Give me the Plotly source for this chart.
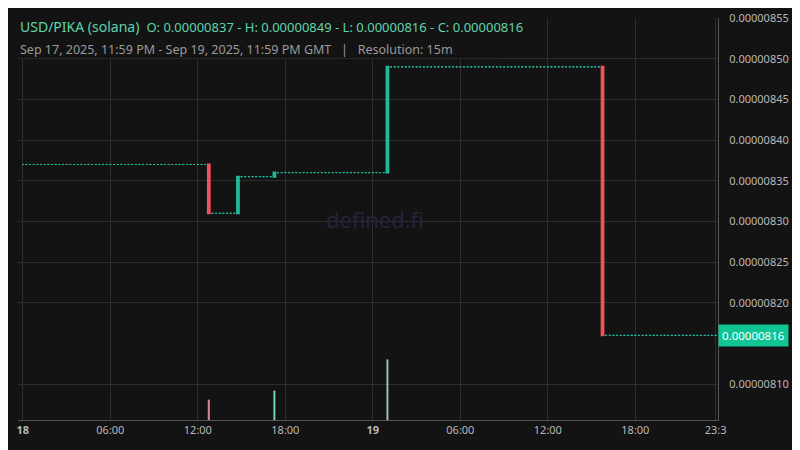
import pandas as pd
import plotly.graph_objects as go

# price change points (15m bars): time, open, close
change_times = ["2025-09-18 12:45", "2025-09-18 14:45", "2025-09-18 17:15",
                "2025-09-19 01:00", "2025-09-19 15:45"]
change_open = [8.37e-6, 8.31e-6, 8.355e-6, 8.36e-6, 8.49e-6]
change_close = [8.31e-6, 8.355e-6, 8.36e-6, 8.49e-6, 8.16e-6]
start_price = 8.37e-6
vol_times = ["2025-09-18 12:45", "2025-09-18 17:15", "2025-09-19 01:00"]
vol_values = [20, 29, 60]
vol_colors = ["#f0525a", "#2fd3a8", "#2fd3a8"]

tick_vals = ["2025-09-18 00:00", "2025-09-18 06:00", "2025-09-18 12:00", "2025-09-18 18:00",
             "2025-09-19 00:00", "2025-09-19 06:00", "2025-09-19 12:00", "2025-09-19 18:00",
             "2025-09-19 23:30"]
tick_text = ["<b>18</b>", "06:00", "12:00", "18:00", "<b>19</b>", "06:00", "12:00", "18:00", "23:3"]
y_ticks = [8.10e-6, 8.20e-6, 8.25e-6, 8.30e-6, 8.35e-6, 8.40e-6, 8.45e-6, 8.50e-6, 8.55e-6]

times = pd.date_range("2025-09-18 00:00", "2025-09-19 23:45", freq="15min")
chg = {pd.Timestamp(t): (o, c) for t, o, c in zip(change_times, change_open, change_close)}
flat_t, flat_p = [], []
p = start_price
for t in times:
    if t in chg:
        p = chg[t][1]
    else:
        flat_t.append(t)
        flat_p.append(p)

fig = go.Figure()
fig.add_trace(go.Bar(x=pd.to_datetime(vol_times), y=vol_values, marker_color=vol_colors,
                     width=1000 * 60 * 5, yaxis="y2", showlegend=False))
fig.add_trace(go.Candlestick(x=flat_t, open=flat_p, high=flat_p, low=flat_p, close=flat_p,
                             increasing=dict(line=dict(color="#1fb89a", width=1)),
                             decreasing=dict(line=dict(color="#1fb89a", width=1)),
                             whiskerwidth=0, showlegend=False))
fig.add_trace(go.Candlestick(x=pd.to_datetime(change_times), open=change_open,
                             high=[max(a, b) for a, b in zip(change_open, change_close)],
                             low=[min(a, b) for a, b in zip(change_open, change_close)],
                             close=change_close,
                             increasing=dict(line=dict(color="#1fb89a", width=2), fillcolor="#1fb89a"),
                             decreasing=dict(line=dict(color="#f0525a", width=2), fillcolor="#f0525a"),
                             whiskerwidth=0, showlegend=False))

last = change_close[-1]
fig.add_hline(y=last, line=dict(color="#bbbbbb", width=1, dash="dot"))

fig.update_layout(
    width=800, height=450, paper_bgcolor="#131313", plot_bgcolor="#131313",
    margin=dict(l=10, r=90, t=10, b=38, autoexpand=False),
    font=dict(family="Noto Sans", color="#b8b8b8", size=11),
    xaxis=dict(range=["2025-09-17 23:40", "2025-09-19 23:40"], rangeslider=dict(visible=False),
               tickvals=pd.to_datetime(tick_vals), ticktext=tick_text, gridcolor="#2e2e2e",
               showline=True, linecolor="#555", zeroline=False, automargin=False),
    yaxis=dict(side="right", range=[8.056e-6, 8.55e-6], tickvals=y_ticks,
               tickformat=".8f", gridcolor="#2e2e2e", showline=True, linecolor="#555",
               zeroline=False, ticks="", ticklabelstandoff=8, automargin=False),
    yaxis2=dict(overlaying="y", range=[0, 400], visible=False),
    shapes=[dict(type="rect", xref="paper", yref="paper", x0=-0.02, x1=0.69, y0=0.9, y1=1.05,
                 fillcolor="#131313", line_width=0, layer="above")],
    annotations=[
        dict(text="USD/PIKA (solana) <span style='font-size:13px'> O: 0.00000837 - H: 0.00000849 - L: 0.00000816 - C: 0.00000816</span>",
             xref="paper", yref="paper", x=0.0, y=0.98, xanchor="left", yanchor="middle",
             showarrow=False, font=dict(color="#5fd3ac", size=14)),
        dict(text="Sep 17, 2025, 11:59 PM - Sep 19, 2025, 11:59 PM GMT   |   Resolution: 15m",
             xref="paper", yref="paper", x=0.0, y=0.922, xanchor="left", yanchor="middle",
             showarrow=False, font=dict(color="#9a9a9a", size=12.5)),
        dict(text="defined.fi", xref="paper", yref="paper", x=0.51, y=0.5, showarrow=False,
             font=dict(color="#25243d", size=22)),
        dict(text=f"{last:.8f}", xref="paper", yref="y", x=1.0, y=last, xanchor="left",
             showarrow=False, bgcolor="#10c493", font=dict(color="white", size=11.5), borderpad=3),
    ],
)
fig.write_html("out.html")
